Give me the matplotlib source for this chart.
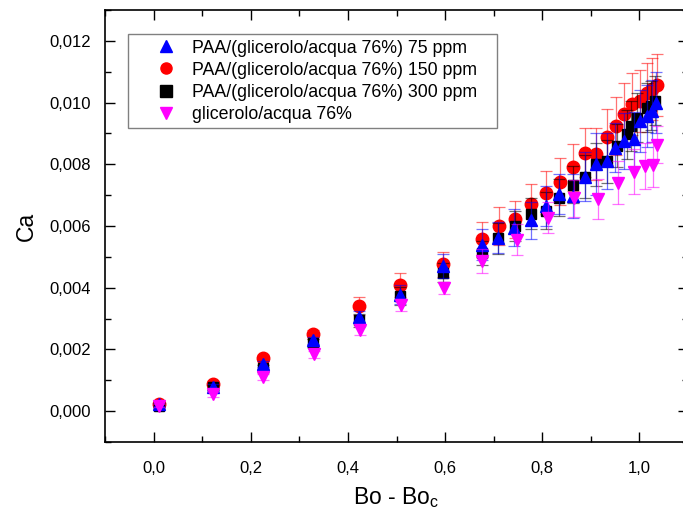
import matplotlib
matplotlib.use('Agg')
import matplotlib.pyplot as plt
from matplotlib.ticker import MultipleLocator, FuncFormatter

plt.rcParams['font.family'] = ['Liberation Sans', 'DejaVu Sans']

# PAA/(glicerolo/acqua 76%) 150 ppm
x_150 = [0.012, 0.122, 0.225, 0.328, 0.423, 0.507, 0.596, 0.675, 0.710, 0.744, 0.776, 0.808,
         0.836, 0.864, 0.888, 0.911, 0.933, 0.952, 0.969, 0.985, 1.002, 1.015, 1.026, 1.036]
y_150 = [0.00022, 0.00087, 0.00171, 0.00249, 0.00340, 0.00409, 0.00476, 0.00557, 0.00600, 0.00622,
         0.00670, 0.00708, 0.00744, 0.00791, 0.00838, 0.00833, 0.00889, 0.00924, 0.00962, 0.00995,
         0.01006, 0.01032, 0.01043, 0.01057]
e_150 = [0.00005, 0.0001, 0.0001, 0.00015, 0.0003, 0.0004, 0.0004, 0.00056, 0.0006, 0.0006,
         0.00067, 0.0007, 0.00075, 0.00076, 0.0008, 0.00084, 0.0009, 0.00094, 0.001, 0.001,
         0.001, 0.00095, 0.001, 0.001]

# PAA/(glicerolo/acqua 76%) 75 ppm
x_75 = [0.012, 0.122, 0.225, 0.328, 0.423, 0.507, 0.596, 0.675, 0.709, 0.742, 0.776, 0.808,
        0.835, 0.864, 0.888, 0.910, 0.933, 0.950, 0.969, 0.988, 1.002, 1.015, 1.026, 1.035]
y_75 = [0.00022, 0.00078, 0.00153, 0.00229, 0.00305, 0.00378, 0.00470, 0.00540, 0.00562, 0.00595,
        0.00619, 0.00665, 0.00703, 0.00697, 0.00760, 0.00800, 0.00811, 0.00854, 0.00876, 0.00881,
        0.00940, 0.00957, 0.00973, 0.01000]
e_75 = [0.00005, 0.0001, 0.0001, 0.00012, 0.0002, 0.0003, 0.0004, 0.0005, 0.0005, 0.0006,
        0.0006, 0.00065, 0.00065, 0.0007, 0.0008, 0.001, 0.0009, 0.0008, 0.0009, 0.0009,
        0.001, 0.001, 0.001, 0.001]

# PAA/(glicerolo/acqua 76%) 300 ppm
x_300 = [0.012, 0.122, 0.225, 0.328, 0.423, 0.507, 0.596, 0.675, 0.709, 0.744, 0.776, 0.808,
         0.835, 0.864, 0.888, 0.910, 0.933, 0.954, 0.974, 0.982, 0.995, 1.015, 1.024, 1.032]
y_300 = [0.00018, 0.00078, 0.00139, 0.00221, 0.00294, 0.00373, 0.00449, 0.00513, 0.00560, 0.00600,
         0.00640, 0.00650, 0.00692, 0.00733, 0.00760, 0.00800, 0.00810, 0.00860, 0.00897, 0.00924,
         0.00951, 0.00984, 0.00990, 0.01006]
e_300 = [0.00005, 0.00008, 0.0001, 0.00012, 0.0002, 0.0003, 0.0003, 0.0004, 0.0005, 0.0005,
         0.0005, 0.0006, 0.0006, 0.0006, 0.0007, 0.0007, 0.0007, 0.0007, 0.0008, 0.0008,
         0.0008, 0.0008, 0.0008, 0.0008]

# glicerolo/acqua 76%
x_gl = [0.012, 0.122, 0.225, 0.330, 0.425, 0.510, 0.597, 0.675, 0.747, 0.811, 0.866, 0.914,
        0.955, 0.988, 1.012, 1.028, 1.037]
y_gl = [0.00018, 0.00054, 0.00110, 0.00184, 0.00262, 0.00344, 0.00400, 0.00487, 0.00555, 0.00627,
        0.00690, 0.00688, 0.00740, 0.00776, 0.00795, 0.00798, 0.00863]
e_gl = [0.00005, 0.00008, 0.0001, 0.00012, 0.00015, 0.0002, 0.0002, 0.0004, 0.0005, 0.0005,
        0.0006, 0.00065, 0.0007, 0.00073, 0.00075, 0.00073, 0.0006]

labels = ['PAA/(glicerolo/acqua 76%) 75 ppm', 'PAA/(glicerolo/acqua 76%) 150 ppm',
          'PAA/(glicerolo/acqua 76%) 300 ppm', 'glicerolo/acqua 76%']

W, H = 683, 513
fig = plt.figure(figsize=(W / 100, H / 100), dpi=100)
ax = fig.add_axes([105 / W, (H - 442) / H, 583 / W, 432 / H])


def draw(x, y, e, marker, color, ms, z):
    c = ax.errorbar(x, y, yerr=e, fmt=marker, color=color, ms=ms, mec=color,
                    ecolor=color, elinewidth=0.9, capsize=4.3, capthick=0.9, zorder=z)
    for cap in c[1]:
        cap.set_alpha(0.55)
    for bl in c[2]:
        bl.set_alpha(0.55)
    return c[0]


h150 = draw(x_150, y_150, e_150, 'o', '#ff0000', 9, 2)
h300 = draw(x_300, y_300, e_300, 's', '#000000', 7.5, 3)
h75 = draw(x_75, y_75, e_75, '^', '#0000ff', 9, 4)
hgl = draw(x_gl, y_gl, e_gl, 'v', '#ff00ff', 9, 5)

ax.set_xlim(-0.1, 1.1)
ax.set_ylim(-0.001, 0.013)
ax.xaxis.set_major_locator(MultipleLocator(0.2))
ax.xaxis.set_minor_locator(MultipleLocator(0.1))
ax.yaxis.set_major_locator(MultipleLocator(0.002))
ax.yaxis.set_minor_locator(MultipleLocator(0.001))
ax.xaxis.set_major_formatter(FuncFormatter(lambda v, p: f"{v:.1f}".replace('.', ',')))
ax.yaxis.set_major_formatter(FuncFormatter(lambda v, p: f"{v:.3f}".replace('.', ',')))

ax.tick_params(which='both', direction='in', top=True, right=True, labelsize=12, width=1.0)
ax.tick_params(which='major', length=7)
ax.tick_params(which='minor', length=4)
ax.tick_params(axis='x', pad=14)
ax.tick_params(axis='y', pad=10)
for sp in ax.spines.values():
    sp.set_linewidth(1.2)

ax.set_xlabel(r'Bo - Bo$_\mathregular{c}$', fontsize=16.5)
ax.set_ylabel('Ca', fontsize=16.5)
ax.xaxis.set_label_coords(0.5, -0.1)
ax.yaxis.set_label_coords(-0.115, 0.5)

leg = ax.legend([h75, h150, h300, hgl], labels,
                loc='upper left', bbox_to_anchor=(0.0395, 0.5, 0.633, 0.444),
                mode='expand', borderaxespad=0,
                fontsize=12.8, fancybox=False, edgecolor='#808080', framealpha=1,
                labelspacing=0.29, handlelength=3.7, handletextpad=-0.39, borderpad=0.3)
leg.get_frame().set_linewidth(1.0)
for lh in leg.legend_handles:
    lh.set_markersize(8)

fig.savefig('out.png', dpi=100)
